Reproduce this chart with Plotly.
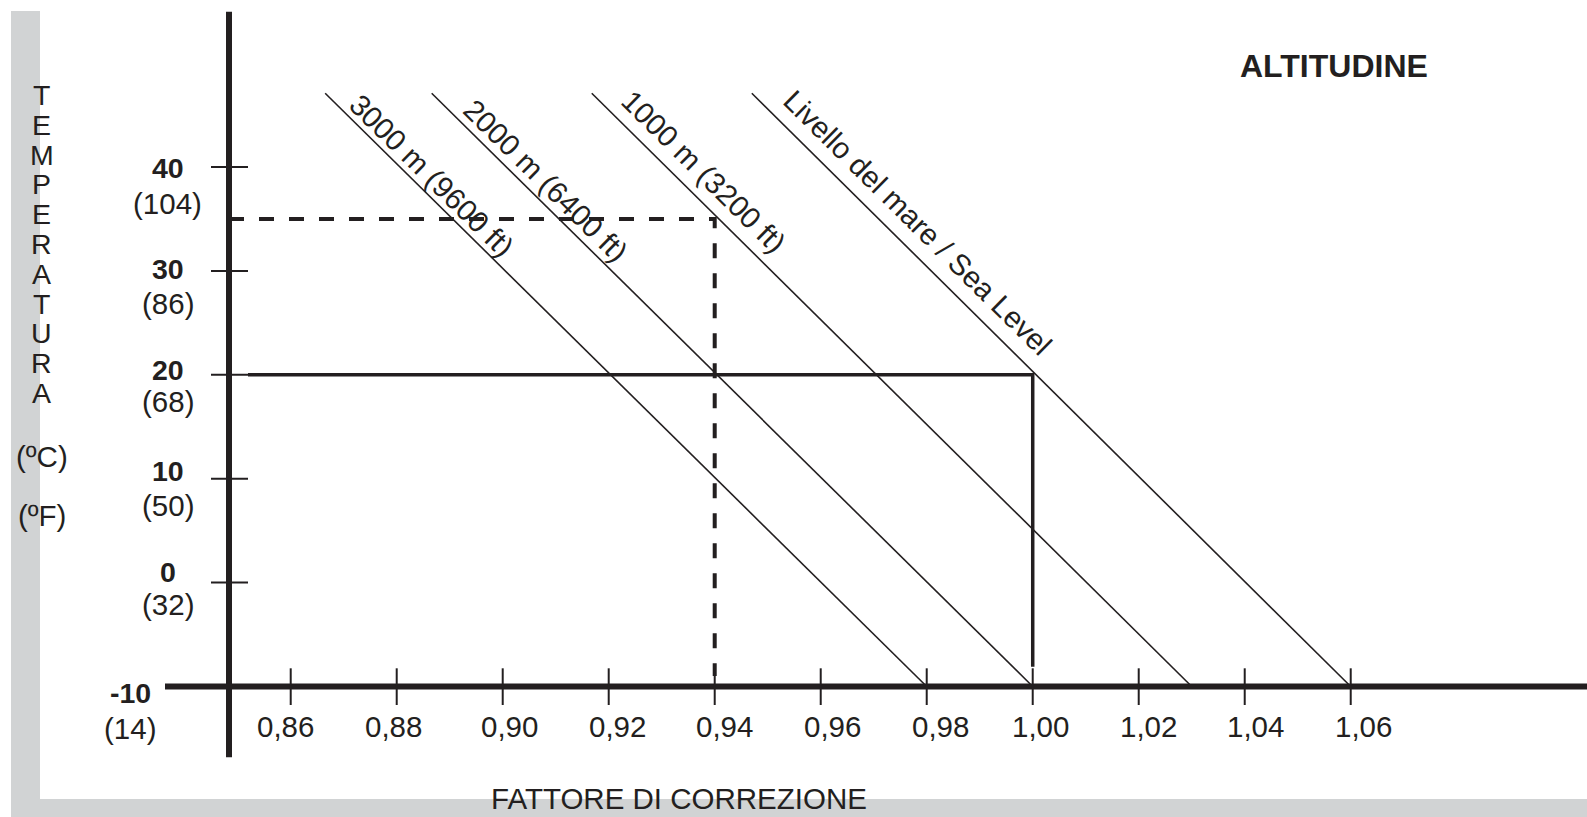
import plotly.graph_objects as go

# ---------------- data ----------------
temp_c_ticks = [40, 30, 20, 10, 0, -10]
temp_f_labels = ["(104)", "(86)", "(68)", "(50)", "(32)", "(14)"]
factor_ticks = [0.86, 0.88, 0.90, 0.92, 0.94, 0.96, 0.98, 1.00, 1.02, 1.04, 1.06]
factor_labels = ["0,86", "0,88", "0,90", "0,92", "0,94", "0,96", "0,98", "1,00", "1,02", "1,04", "1,06"]

altitude_names = ["3000 m (9600 ft)", "2000 m (6400 ft)", "1000 m (3200 ft)", "Livello del mare / Sea Level"]
factor_at_bottom = [0.98, 1.00, 1.03, 1.06]          # factor where each line meets -10 °C
factor_at_top = [0.8665, 0.8866, 0.9168, 0.9470]     # factor at the top end of each line
temp_top = 47.1
temp_bottom = -10

dash_example_temp = 35
dash_example_factor = 0.94
solid_example_temp = 20
solid_example_factor = 1.00

# ---------------- layout helpers ----------------
W, H = 1587, 817
XR = [0.80515, 1.10458]
YR = [-22.56, 56.07]
INK = "#231f20"
GREY = "#d1d3d4"
FONT = "Liberation Sans, Arial, Helvetica, sans-serif"
FS = 29.5


def px_x(px):
    return XR[0] + px / W * (XR[1] - XR[0])


def px_y(py):
    return YR[1] - py / H * (YR[1] - YR[0])


def y_px(v):
    return (YR[1] - v) / (YR[1] - YR[0]) * H


fig = go.Figure()

# altitude lines
for name, xt, xb in zip(altitude_names, factor_at_top, factor_at_bottom):
    fig.add_trace(go.Scatter(x=[xt, xb], y=[temp_top, temp_bottom], mode="lines",
                             line=dict(color=INK, width=1.6), name=name,
                             hoverinfo="skip", showlegend=False))

axis_x = px_x(229)

# dashed example
fig.add_trace(go.Scatter(x=[axis_x, dash_example_factor, dash_example_factor],
                         y=[dash_example_temp, dash_example_temp, -9.0],
                         mode="lines", line=dict(color=INK, width=4, dash="15px,15px"),
                         hoverinfo="skip", showlegend=False))
# solid example
fig.add_trace(go.Scatter(x=[px_x(248), solid_example_factor, solid_example_factor],
                         y=[solid_example_temp, solid_example_temp, -8.1],
                         mode="lines", line=dict(color=INK, width=3.5),
                         hoverinfo="skip", showlegend=False))

shapes = []
# grey L-shaped frame
shapes.append(dict(type="rect", xref="paper", yref="paper", x0=11 / W, x1=40 / W,
                   y0=0, y1=1 - 11 / H, fillcolor=GREY, line=dict(width=0), layer="below"))
shapes.append(dict(type="rect", xref="paper", yref="paper", x0=11 / W, x1=1,
                   y0=0, y1=(H - 799) / H, fillcolor=GREY, line=dict(width=0), layer="below"))
# axes
shapes.append(dict(type="line", xref="x", yref="y", x0=axis_x, x1=axis_x,
                   y0=px_y(11.7), y1=px_y(757.3), line=dict(color=INK, width=6)))
shapes.append(dict(type="line", xref="x", yref="y", x0=px_x(165), x1=XR[1],
                   y0=-10, y1=-10, line=dict(color=INK, width=6)))
# y ticks
for t in temp_c_ticks[:-1]:
    shapes.append(dict(type="line", xref="x", yref="y", x0=px_x(211), x1=px_x(248),
                       y0=t, y1=t, line=dict(color=INK, width=2)))
# x ticks
for f in factor_ticks:
    shapes.append(dict(type="line", xref="x", yref="y", x0=f, x1=f,
                       y0=px_y(668.3), y1=px_y(705), line=dict(color=INK, width=2)))

annotations = []
# y tick labels (bold °C, then °F)
c_label_px = [168.3, 269, 370, 470.7, 571.7, 693.3]
f_label_px = [204, 303, 402, 505, 605, 728.3]
label_x_px = [167.7, 167.7, 167.7, 167.7, 167.7, 130]
for t, fl, cpx, fpx, lx in zip(temp_c_ticks, temp_f_labels, c_label_px, f_label_px, label_x_px):
    annotations.append(dict(xref="x", yref="y", x=px_x(lx), y=t, yshift=y_px(t) - cpx,
                            text="<b>%d</b>" % t, showarrow=False,
                            xanchor="center", yanchor="middle",
                            font=dict(family=FONT, size=FS - 1, color=INK)))
    annotations.append(dict(xref="x", yref="y", x=px_x(lx), y=t, yshift=y_px(t) - fpx,
                            text=fl, showarrow=False, xanchor="center", yanchor="middle",
                            font=dict(family=FONT, size=FS, color=INK)))

# x tick labels
x_label_shift = [-5.3, -3.5, 6.7, 8.5, 10, 11.5, 13.6, 7.7, 10, 11, 13]
for f, lab, sh in zip(factor_ticks, factor_labels, x_label_shift):
    annotations.append(dict(xref="x", yref="y", x=f, y=px_y(726.5), xshift=sh,
                            text=lab, showarrow=False, xanchor="center", yanchor="middle",
                            font=dict(family=FONT, size=FS, color=INK)))

# altitude labels along the lines
alt_label_px = [(432, 175), (546, 180), (704, 171), (918, 222)]
for name, (lx, ly) in zip(altitude_names, alt_label_px):
    annotations.append(dict(xref="x", yref="y", x=px_x(lx), y=px_y(ly), text=name,
                            textangle=44.6, showarrow=False, xanchor="center", yanchor="middle",
                            font=dict(family=FONT, size=FS, color=INK)))

# vertical TEMPERATURA
word = "TEMPERATURA"
for i, ch in enumerate(word):
    annotations.append(dict(xref="paper", yref="paper", x=41.7 / W, y=1 - (95 + i * 29.8) / H,
                            text=ch, showarrow=False, xanchor="center", yanchor="middle",
                            font=dict(family=FONT, size=FS - 1, color=INK)))
annotations.append(dict(xref="paper", yref="paper", x=41.5 / W, y=1 - 456.7 / H, text="(ºC)",
                        showarrow=False, xanchor="center", yanchor="middle",
                        font=dict(family=FONT, size=FS, color=INK)))
annotations.append(dict(xref="paper", yref="paper", x=41.5 / W, y=1 - 515 / H, text="(ºF)",
                        showarrow=False, xanchor="center", yanchor="middle",
                        font=dict(family=FONT, size=FS, color=INK)))

annotations.append(dict(xref="paper", yref="paper", x=1333.8 / W, y=1 - 66 / H,
                        text="<b>ALTITUDINE</b>", showarrow=False, xanchor="center",
                        yanchor="middle", font=dict(family=FONT, size=32, color=INK)))
annotations.append(dict(xref="paper", yref="paper", x=679 / W, y=1 - 798 / H,
                        text="FATTORE DI CORREZIONE", showarrow=False, xanchor="center",
                        yanchor="middle", font=dict(family=FONT, size=FS, color=INK)))

fig.update_layout(
    width=W, height=H,
    margin=dict(l=0, r=0, t=0, b=0, pad=0),
    paper_bgcolor="white", plot_bgcolor="white",
    xaxis=dict(range=XR, visible=False, fixedrange=True),
    yaxis=dict(range=YR, visible=False, fixedrange=True),
    shapes=shapes, annotations=annotations, showlegend=False,
)

fig.write_html("out.html", config={"displayModeBar": False},
               post_script="document.body.style.margin='0';document.body.style.overflow='hidden';")
